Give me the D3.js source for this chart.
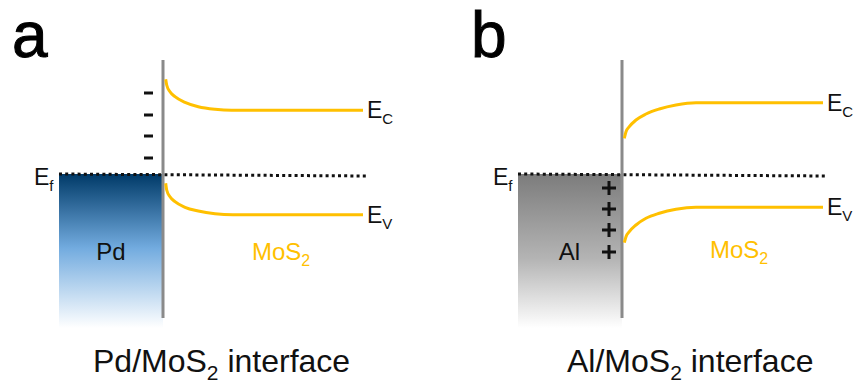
<!DOCTYPE html>
<html>
<head>
<meta charset="utf-8">
<script src="https://cdn.jsdelivr.net/npm/d3@7"></script>
<style>
  body { margin: 0; background: #fff; }
  text { font-family: "Liberation Sans", Arial, sans-serif; }
</style>
</head>
<body>
<svg id="chart" width="853" height="387"></svg>
<script>
// panels: metal on the left, MoS2 on the right
const panelLetters = ["a", "b"]
const metals = ["Pd", "Al"]
const semi = "MoS"
const captionTail = " interface"

// band edges: [distance from interface, energy relative to Ef]
const ecA = [[2.7, 0.957], [3.7, 0.90], [7, 0.833], [12, 0.783], [22, 0.727], [35.3, 0.683], [52, 0.657], [68.7, 0.647], [200, 0.647]]
const evA = [[2.7, -0.083], [3.7, -0.15], [7, -0.217], [12, -0.267], [22, -0.323], [35.3, -0.36], [52, -0.387], [70, -0.397], [200, -0.397]]
const ecB = [[2.3, 0.367], [4, 0.433], [7.3, 0.483], [14, 0.55], [24, 0.61], [37.3, 0.66], [54, 0.70], [74, 0.723], [201, 0.723]]
const evB = [[2.3, -0.677], [4, -0.617], [7.3, -0.567], [14, -0.50], [24, -0.433], [37.3, -0.383], [54, -0.343], [74, -0.323], [201, -0.323]]

// fermi level, metal extent, interface extent
const fermi = [[-104, 0.01], [204, -0.01]]
const metalSpan = [-104, 0, 0.01, -1.53]
const interfaceSpan = [1.15, -1.43]

// interface charges
const chargeA = [0.82, 0.60, 0.39, 0.17]   // minus
const chargeB = [-0.13, -0.34, -0.55, -0.77] // plus

const bands = [[ecA, evA], [ecB, evB]]
const charges = [chargeA, chargeB]
const chargeSign = ["-", "+"]
const panelShift = [0, 459]

const x = d3.scaleLinear().domain([-104, 204]).range([59, 367])
const y = d3.scaleLinear().domain([0, 1]).range([175, 75])

const svg = d3.select("#chart")
const defs = svg.append("defs")

const gradStops = [
  [["0%", "#003a68"], ["48%", "#72abdf"], ["100%", "#ffffff"]],
  [["0%", "#7c7c7c"], ["55%", "#b4b4b4"], ["100%", "#ffffff"]]
]
gradStops.forEach((stops, i) => {
  defs.append("linearGradient")
    .attr("id", `metal-${i}`)
    .attr("x1", 0).attr("y1", 0).attr("x2", 0).attr("y2", 1)
    .selectAll("stop")
    .data(stops)
    .join("stop")
    .attr("offset", d => d[0])
    .attr("stop-color", d => d[1])
})

const line = d3.line()
  .x(d => x(d[0]))
  .y(d => y(d[1]))
  .curve(d3.curveMonotoneX)

panelLetters.forEach((letter, i) => {
  const g = svg.append("g").attr("transform", `translate(${panelShift[i]},0)`)

  // metal block
  g.append("rect")
    .attr("x", x(metalSpan[0]))
    .attr("y", y(metalSpan[2]))
    .attr("width", x(metalSpan[1]) - x(metalSpan[0]))
    .attr("height", y(metalSpan[3]) - y(metalSpan[2]))
    .attr("fill", `url(#metal-${i})`)

  // fermi level
  g.append("path")
    .attr("d", d3.line().x(d => x(d[0])).y(d => y(d[1]))(fermi))
    .attr("stroke", "#111")
    .attr("stroke-width", 3)
    .attr("stroke-dasharray", "3,3.2")
    .attr("fill", "none")

  // interface
  g.append("line")
    .attr("x1", x(0)).attr("x2", x(0))
    .attr("y1", y(interfaceSpan[0])).attr("y2", y(interfaceSpan[1]))
    .attr("stroke", "#8a8a8a")
    .attr("stroke-width", 3)

  // bands
  g.selectAll("path.band")
    .data(bands[i])
    .join("path")
    .attr("class", "band")
    .attr("d", d => line(d))
    .attr("stroke", "#ffc000")
    .attr("stroke-width", 3)
    .attr("fill", "none")

  // band labels
  const bandSubs = ["C", "V"]
  bands[i].forEach((b, j) => {
    const end = b[b.length - 1]
    const t = g.append("text")
      .attr("x", x(end[0]) + 4)
      .attr("y", y(end[1]) + 8)
      .attr("font-size", 23)
      .attr("fill", "#111")
    t.append("tspan").text("E")
    t.append("tspan").attr("font-size", 15).attr("dy", 6).text(bandSubs[j])
  })

  // Ef label
  const ef = g.append("text")
    .attr("x", x(-104) - 25)
    .attr("y", 185)
    .attr("font-size", 23)
    .attr("fill", "#111")
  ef.append("tspan").text("E")
  ef.append("tspan").attr("font-size", 15).attr("dy", 6).text("f")

  // charges
  const cx = i === 0 ? x(-14.5) : x(-13)
  const half = i === 0 ? 4.5 : 7
  g.selectAll("line.hbar")
    .data(charges[i])
    .join("line")
    .attr("class", "hbar")
    .attr("x1", cx - half).attr("x2", cx + half)
    .attr("y1", d => y(d)).attr("y2", d => y(d))
    .attr("stroke", "#111")
    .attr("stroke-width", 3)
  if (chargeSign[i] === "+") {
    g.selectAll("line.vbar")
      .data(charges[i])
      .join("line")
      .attr("class", "vbar")
      .attr("x1", cx).attr("x2", cx)
      .attr("y1", d => y(d) - half).attr("y2", d => y(d) + half)
      .attr("stroke", "#111")
      .attr("stroke-width", 3)
  }

  // metal name
  g.append("text")
    .attr("x", i === 0 ? x(-52) : x(-52.5))
    .attr("y", 260)
    .attr("text-anchor", "middle")
    .attr("font-size", 24)
    .attr("fill", "#111")
    .text(metals[i])

  // MoS2 label
  const ms = g.append("text")
    .attr("x", i === 0 ? x(89) : x(88))
    .attr("y", i === 0 ? 260 : 258)
    .attr("font-size", 24)
    .attr("fill", "#ffc000")
  ms.append("tspan").text(semi)
  ms.append("tspan").attr("font-size", 16).attr("dy", 6).text("2")

  // caption
  const cap = g.append("text")
    .attr("x", i === 0 ? 93 : 108)
    .attr("y", 372)
    .attr("font-size", 32)
    .attr("fill", "#111")
  cap.append("tspan").text(`${metals[i]}/${semi}`)
  cap.append("tspan").attr("font-size", 21).attr("dy", 8).text("2")
  cap.append("tspan").attr("dy", -8).text(captionTail)

  // panel letter
  g.append("text")
    .attr("x", 12)
    .attr("y", 57)
    .attr("font-family", "Lato, sans-serif")
    .attr("font-weight", 400)
    .attr("font-size", 64)
    .attr("fill", "#000")
    .attr("stroke", "#000")
    .attr("stroke-width", 1)
    .text(letter)
})
</script>
</body>
</html>
